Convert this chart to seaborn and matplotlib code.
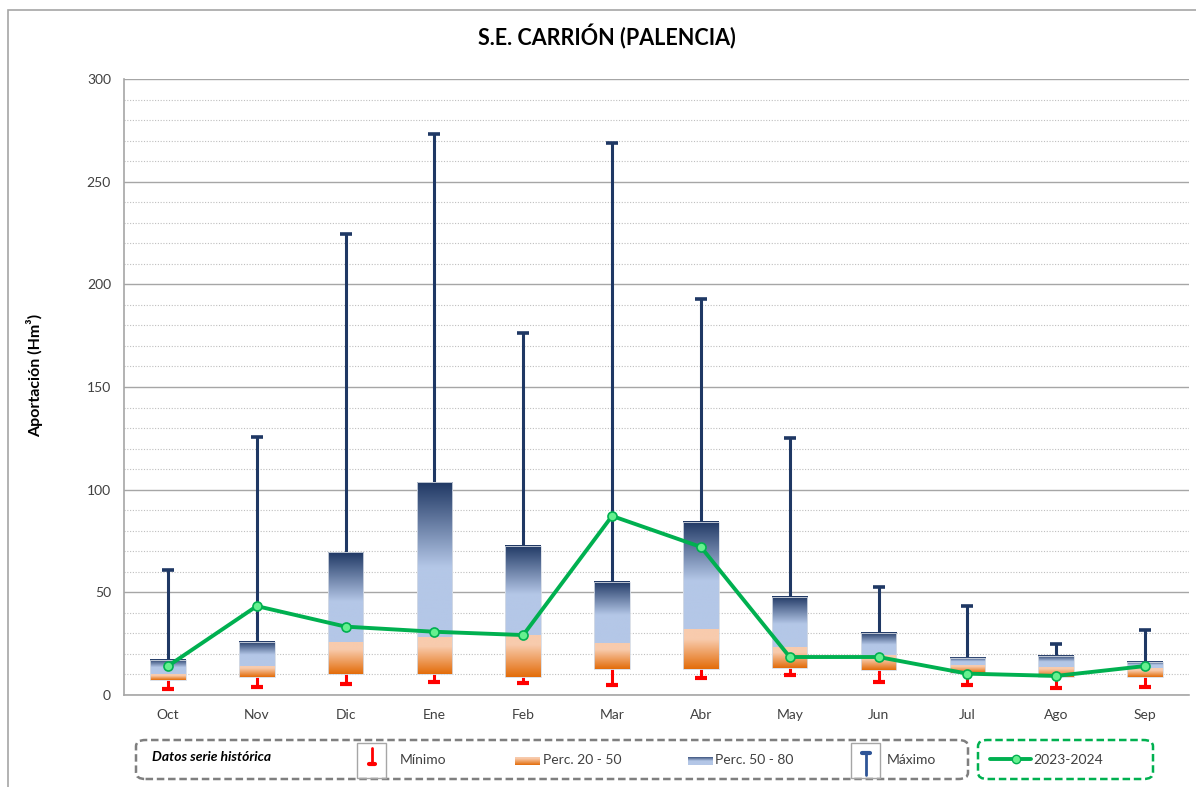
import numpy as np
import pandas as pd
import matplotlib.pyplot as plt
import seaborn as sns
from matplotlib.colors import LinearSegmentedColormap
from matplotlib.patches import FancyBboxPatch, Rectangle
from matplotlib.lines import Line2D

# Data (Hm3)
months = ['Oct', 'Nov', 'Dic', 'Ene', 'Feb', 'Mar', 'Abr', 'May', 'Jun', 'Jul', 'Ago', 'Sep']
minimo = [2.8, 4.1, 5.4, 6.2, 5.7, 4.9, 8.1, 9.7, 6.5, 4.9, 3.2, 3.7]
perc20 = [7.3, 8.6, 10.1, 10.4, 8.6, 12.7, 12.7, 13.3, 12.2, 10.6, 8.6, 8.9]
perc50 = [10.2, 14.1, 26.0, 28.4, 29.2, 25.2, 32.0, 23.2, 19.5, 14.6, 13.5, 13.0]
perc80 = [17.2, 26.0, 69.6, 103.7, 72.6, 55.2, 84.3, 47.6, 30.4, 18.2, 19.0, 16.2]
maximo = [61.0, 125.6, 224.5, 273.2, 176.3, 268.8, 192.9, 125.2, 52.8, 43.3, 24.7, 31.7]
actual = [14.1, 43.3, 33.3, 30.8, 29.2, 87.2, 72.1, 18.5, 18.5, 10.4, 9.3, 14.1]

df = pd.DataFrame({'mes': months, 'min': minimo, 'p20': perc20, 'p50': perc50,
                   'p80': perc80, 'max': maximo, 'actual': actual})

sns.set_style('white')
plt.rcParams['font.family'] = ['Lato', 'DejaVu Sans']

navy = '#1F3864'
green = '#00B050'
gray_txt = '#404040'

blue_cmap = LinearSegmentedColormap.from_list(
    'blue', [(0, '#B4C7E7'), (0.45, '#B4C7E7'), (1, '#203864')])
orange_cmap = LinearSegmentedColormap.from_list(
    'orange', [(0, '#E36C09'), (0.75, '#F8CBAD'), (1, '#F8CBAD')])

fig = plt.figure(figsize=(11.96, 7.87), dpi=100)
ax = fig.add_axes([0.1033, 0.1169, 0.8912, 0.7827])

# bars give the category positions and widths
sns.barplot(data=df, x='mes', y='p80', width=0.4, color='white', ax=ax, zorder=2)
xs = []
grad = np.linspace(0, 1, 256).reshape(-1, 1)
for p, (_, r) in zip(ax.patches, df.iterrows()):
    x0 = p.get_x()
    x1 = x0 + p.get_width()
    xs.append(x0 + p.get_width() / 2)
    p.set_visible(False)
    ax.imshow(grad, extent=[x0, x1, r['p20'], r['p50']], origin='lower',
              cmap=orange_cmap, aspect='auto', zorder=3)
    ax.imshow(grad, extent=[x0, x1, r['p50'], r['p80']], origin='lower',
              cmap=blue_cmap, aspect='auto', zorder=3)
    ax.add_patch(Rectangle((x0, r['p20']), x1 - x0, r['p80'] - r['p20'],
                           fill=False, ec='#D6DCE5', lw=0.6, zorder=3.5))

# whiskers
ax.vlines(xs, df['p80'], df['max'], color=navy, lw=2.2, zorder=1.5)
ax.plot(xs, df['max'], ls='none', marker='_', ms=8, mew=2.6, color=navy, zorder=1.6)
ax.vlines(xs, df['min'], df['p20'], color='#FF0000', lw=2.2, zorder=1.5)
ax.plot(xs, df['min'], ls='none', marker='_', ms=9, mew=3, color='#FF0000', zorder=1.6)

# current year
sns.lineplot(x=np.arange(len(months)), y=df['actual'], color=green, lw=2.8,
             marker='o', ms=6.5, markerfacecolor='#66F08F', markeredgecolor=green,
             markeredgewidth=1.2, ax=ax, zorder=5)

ax.set_xlim(-0.5, len(months) - 0.5)
ax.set_ylim(0, 300)
ax.set_yticks(range(0, 301, 50))
ax.set_yticks(range(0, 301, 10), minor=True)
ax.set_xticks(range(len(months)))
ax.set_xticklabels(months)
ax.set_xticks(np.arange(-0.5, len(months), 1), minor=True)
ax.grid(axis='y', which='major', color='#A6A6A6', lw=1, zorder=0)
ax.grid(axis='y', which='minor', color='#BFBFBF', lw=0.8, ls=(0, (1, 1.5)), zorder=0)
ax.set_axisbelow(True)
ax.tick_params(axis='x', which='major', length=0, pad=10, labelsize=10, labelcolor=gray_txt)
ax.tick_params(axis='x', which='minor', length=5, color='#A6A6A6', width=1)
ax.tick_params(axis='y', which='major', length=5, color='#A6A6A6', width=1,
               labelsize=10, labelcolor=gray_txt, pad=4)
ax.tick_params(axis='y', which='minor', length=0)
for s in ['top', 'right']:
    ax.spines[s].set_visible(False)
for s in ['left', 'bottom']:
    ax.spines[s].set_color('#A6A6A6')
    ax.spines[s].set_linewidth(1.2)
ax.set_xlabel('')
ax.set_ylabel('')

W, H = 1196, 787


def fx(px):
    return px / W


def fy(py):
    return 1 - py / H


# outer frame of the chart area
fig.patches.append(Rectangle((fx(8), fy(800)), fx(1200), fy(10) - fy(800), fill=False,
                             ec='#A6A6A6', lw=1.2, transform=fig.transFigure))

fig.text(fx(607), fy(37), 'S.E. CARRIÓN (PALENCIA)', ha='center', va='center',
         fontsize=15.5, fontweight='bold', color='black')
fig.text(fx(35), fy(375), 'Aportación (Hm³)', ha='center', va='center', rotation=90,
         fontsize=11.5, fontweight='bold', color='black')

# legend
fig.patches.append(FancyBboxPatch((fx(136), fy(779)), fx(968) - fx(136), fy(740) - fy(779),
                                  boxstyle='round,pad=0,rounding_size=0.008', fill=False,
                                  ec='#7F7F7F', lw=1.8, ls=(0, (3, 1.5)),
                                  transform=fig.transFigure))
fig.patches.append(FancyBboxPatch((fx(978), fy(779)), fx(1153) - fx(978), fy(740) - fy(779),
                                  boxstyle='round,pad=0,rounding_size=0.008', fill=False,
                                  ec=green, lw=1.8, ls=(0, (3, 1.5)),
                                  transform=fig.transFigure))
fig.text(fx(152), fy(757), 'Datos serie histórica', ha='left', va='center',
         fontsize=10, fontweight='bold', fontstyle='italic', color='black')

# min icon
fig.patches.append(Rectangle((fx(357), fy(778)), fx(29), fy(743) - fy(778), fill=False,
                             ec='#A6A6A6', lw=1, transform=fig.transFigure))
fig.lines.append(Line2D([fx(372), fx(372)], [fy(748), fy(764)], color='#FF0000', lw=2,
                        transform=fig.transFigure))
fig.lines.append(Line2D([fx(369), fx(375)], [fy(764), fy(764)], color='#FF0000', lw=3,
                        transform=fig.transFigure))
fig.text(fx(400), fy(760), 'Mínimo', ha='left', va='center', fontsize=10, color=gray_txt)

# perc swatches
orange_ax = fig.add_axes([fx(515), fy(765), fx(25), fy(757) - fy(765)])
orange_ax.imshow(grad, origin='lower', cmap=orange_cmap, aspect='auto')
orange_ax.axis('off')
fig.text(fx(543), fy(760), 'Perc. 20 - 50', ha='left', va='center', fontsize=10, color=gray_txt)
blue_ax = fig.add_axes([fx(688), fy(765), fx(25), fy(757) - fy(765)])
blue_ax.imshow(grad, origin='lower', cmap=blue_cmap, aspect='auto')
blue_ax.axis('off')
fig.text(fx(715), fy(760), 'Perc. 50 - 80', ha='left', va='center', fontsize=10, color=gray_txt)

# max icon
fig.patches.append(Rectangle((fx(851), fy(778)), fx(29), fy(743) - fy(778), fill=False,
                             ec='#A6A6A6', lw=1, transform=fig.transFigure))
fig.lines.append(Line2D([fx(866), fx(866)], [fy(753), fy(775)], color='#2E5597', lw=2,
                        transform=fig.transFigure))
fig.lines.append(Line2D([fx(862), fx(870)], [fy(753), fy(753)], color='#2E5597', lw=3,
                        transform=fig.transFigure))
fig.text(fx(887), fy(760), 'Máximo', ha='left', va='center', fontsize=10, color=gray_txt)

# current year legend entry
fig.lines.append(Line2D([fx(990), fx(1031)], [fy(759), fy(759)], color=green, lw=2.8,
                        transform=fig.transFigure))
fig.lines.append(Line2D([fx(1016)], [fy(759)], color=green, marker='o', ms=6,
                        markerfacecolor='#66F08F', markeredgecolor=green,
                        transform=fig.transFigure))
fig.text(fx(1033), fy(760), '2023-2024', ha='left', va='center', fontsize=10, color=gray_txt)

fig.savefig('out.png', dpi=100)
